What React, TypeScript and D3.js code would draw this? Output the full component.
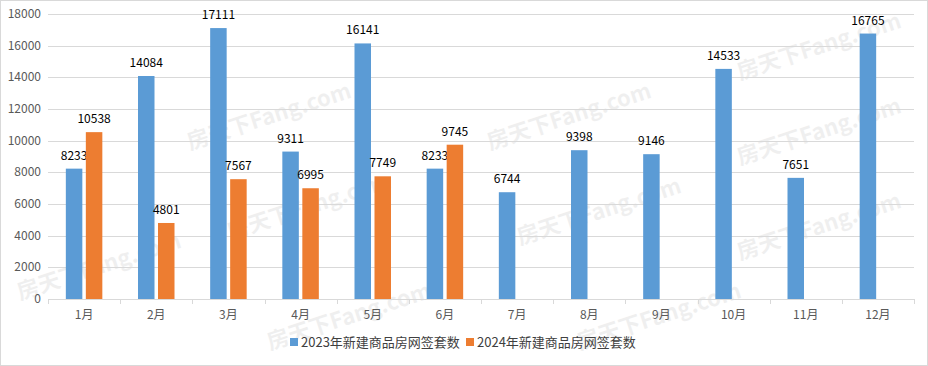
import { useEffect, useRef } from 'react';
import * as d3 from 'd3';

const months = ['1月', '2月', '3月', '4月', '5月', '6月', '7月', '8月', '9月', '10月', '11月', '12月'];
const sales2023 = [8233, 14084, 17111, 9311, 16141, 8233, 6744, 9398, 9146, 14533, 7651, 16765];
const sales2024 = [10538, 4801, 7567, 6995, 7749, 9745];
const seriesNames = ['2023年新建商品房网签套数', '2024年新建商品房网签套数'];
const yTicks = [0, 2000, 4000, 6000, 8000, 10000, 12000, 14000, 16000, 18000];

const COLORS = ['#5B9BD5', '#ED7D31'];
const FONT = '"Noto Sans CJK SC", "Liberation Sans", sans-serif';

export default function App() {
  const svgRef = useRef<SVGSVGElement>(null);
  const width = 928;
  const height = 366;

  useEffect(() => {
    if (!svgRef.current) return;
    const svg = d3.select(svgRef.current);
    svg.selectAll('*').remove();

    const left = 48, right = 914, top = 14, bottom = 299;

    svg.append('rect')
      .attr('x', 0.5).attr('y', 0.5)
      .attr('width', width - 1).attr('height', height - 1)
      .attr('fill', '#fff').attr('stroke', '#d9d9d9');

    const x = d3.scaleBand<string>().domain(months).range([left, right]);
    const y = d3.scaleLinear().domain([0, 18000]).range([bottom, top]);

    // faint site watermarks behind the chart
    const marks = [[740, 80], [190, 150], [490, 150], [740, 165], [20, 300], [230, 240], [520, 245], [740, 260], [270, 350], [580, 350]];
    svg.append('g')
      .selectAll('text')
      .data(marks)
      .enter()
      .append('text')
      .attr('transform', d => `translate(${d[0]},${d[1]}) rotate(-18)`)
      .attr('font-family', FONT)
      .attr('font-size', 22)
      .attr('font-weight', 'bold')
      .attr('fill', '#000')
      .attr('opacity', 0.06)
      .text('房天下Fang.com');

    // gridlines
    svg.append('g')
      .selectAll('line')
      .data(yTicks)
      .enter()
      .append('line')
      .attr('x1', left).attr('x2', right)
      .attr('y1', d => Math.round(y(d)) + 0.5)
      .attr('y2', d => Math.round(y(d)) + 0.5)
      .attr('stroke', '#d9d9d9');

    // y labels
    svg.append('g')
      .selectAll('text')
      .data(yTicks)
      .enter()
      .append('text')
      .attr('x', left - 7)
      .attr('y', d => y(d) + 4)
      .attr('text-anchor', 'end')
      .attr('font-family', FONT)
      .attr('font-size', 12)
      .attr('fill', '#595959')
      .text(d => d);

    // x tick marks
    const edges = months.map(m => x(m)!).concat([right]);
    svg.append('g')
      .selectAll('line')
      .data(edges)
      .enter()
      .append('line')
      .attr('x1', d => Math.round(d) + 0.5).attr('x2', d => Math.round(d) + 0.5)
      .attr('y1', bottom).attr('y2', bottom + 5)
      .attr('stroke', '#d9d9d9');

    svg.append('g')
      .selectAll('text')
      .data(months)
      .enter()
      .append('text')
      .attr('x', d => x(d)! + x.bandwidth() / 2)
      .attr('y', bottom + 20)
      .attr('text-anchor', 'middle')
      .attr('font-family', FONT)
      .attr('font-size', 12)
      .attr('fill', '#595959')
      .text(d => d);

    const barW = 16.5;
    const gap = 3.5;
    const offset = (x.bandwidth() - (2 * barW + gap)) / 2;

    [sales2023, sales2024].forEach((series, si) => {
      const g = svg.append('g');
      const bx = (i: number) => x(months[i])! + offset + si * (barW + gap);
      g.selectAll('rect')
        .data(series)
        .enter()
        .append('rect')
        .attr('x', (_, i) => bx(i))
        .attr('y', d => y(d))
        .attr('width', barW)
        .attr('height', d => bottom - y(d))
        .attr('fill', COLORS[si]);
      g.selectAll('text')
        .data(series)
        .enter()
        .append('text')
        .attr('x', (_, i) => bx(i) + barW / 2)
        .attr('y', d => y(d) - 9)
        .attr('text-anchor', 'middle')
        .attr('font-family', FONT)
        .attr('font-size', 12)
        .attr('fill', '#000')
        .text(d => d);
    });

    // legend
    const legend = svg.append('g');
    const starts = [290, 466];
    seriesNames.forEach((n, i) => {
      legend.append('rect')
        .attr('x', starts[i]).attr('y', 338)
        .attr('width', 8).attr('height', 8)
        .attr('fill', COLORS[i]);
      legend.append('text')
        .attr('x', starts[i] + 11).attr('y', 347)
        .attr('font-family', FONT)
        .attr('font-size', 13)
        .attr('fill', '#404040')
        .text(n);
    });
  }, []);

  return (
    <svg ref={svgRef} width={width} height={height}
      style={{ position: 'absolute', left: 0, top: 0 }} />
  );
}
